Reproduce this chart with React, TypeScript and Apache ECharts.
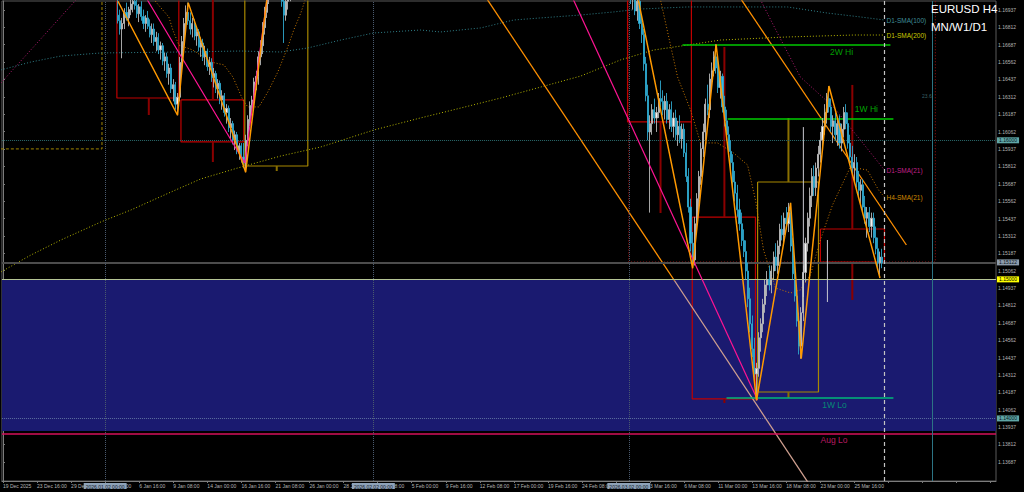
import React, { useEffect, useRef } from "react";
import * as echarts from "echarts";

// ---------------- DATA ----------------
const FONT = '"Liberation Sans", Arial, sans-serif';
const N_SLOTS = 467; // H4 bar slots shown (incl. chart shift)
const LABEL_STEP = 16;
const xLabels = [
  "19 Dec 2025", "23 Dec 16:00", "29 Dec 08:00", "2 Jan 00:00", "6 Jan 16:00", "9 Jan 08:00",
  "14 Jan 00:00", "16 Jan 16:00", "21 Jan 08:00", "26 Jan 00:00", "28 Jan 16:00", "2 Feb 08:00",
  "5 Feb 00:00", "9 Feb 16:00", "12 Feb 08:00", "17 Feb 00:00", "19 Feb 16:00", "24 Feb 08:00",
  "27 Feb 00:00", "3 Mar 16:00", "6 Mar 08:00", "11 Mar 00:00", "13 Mar 16:00", "18 Mar 08:00",
  "23 Mar 00:00", "25 Mar 16:00",
];
// prices in pips above 1.1000 (e.g. 650 = 1.1650)
const Y_MIN = 355.0;
const Y_MAX = 700.17;
const yTickPips = [
  368.75, 381.25, 393.75, 406.25, 418.75, 431.25, 443.75, 456.25, 468.75, 481.25, 493.75,
  506.25, 518.75, 531.25, 543.75, 556.25, 568.75, 581.25, 593.75, 606.25, 618.75, 631.25,
  643.75, 656.25, 668.75, 681.25, 693.75,
];

// candles [open, high, low, close]; null = off-screen (above the chart)
const JAN_START = 54;
const janBars = [
  [690,701,684,686],[686,694,676,680],[680,688,659,684],[684,695,680,692],[692,699,686,688],
  [688,696,682,694],[694,701,690,698],[698,705,692,700],[700,706,694,697],[697,702,688,691],
  [691,698,685,696],[696,700,686,689],[689,694,680,684],[684,690,678,688],[688,693,680,682],
  [682,687,674,676],[676,684,670,680],[680,684,668,671],[671,678,664,674],[674,677,662,665],
  [665,671,658,668],[668,670,654,657],[657,663,650,660],[660,663,645,648],[648,655,640,652],
  [652,655,634,637],[637,644,628,640],[640,642,622,626],[626,634,618,631],[631,660,628,656],
  [656,675,650,671],[671,688,666,684],[684,697,679,692],[692,699,683,686],[686,692,676,680],
  [680,688,674,684],[684,687,672,675],[675,682,668,678],[678,680,664,667],[667,674,660,670],
  [670,673,657,660],[660,668,654,664],[664,666,650,653],[653,660,647,656],[656,659,642,645],
  [645,652,638,648],[648,650,634,637],[637,644,630,641],[641,643,626,629],[629,636,622,632],
  [632,634,617,620],[620,626,612,623],[623,625,606,609],[609,616,601,612],[612,614,597,600],
  [600,607,593,604],[604,606,590,593],[593,598,586,596],[596,598,584,588],[588,598,580,584],
  [584,604,577,600],[600,618,596,615],[615,628,610,625],[625,632,618,629],[629,645,624,642],
  [642,650,636,646],[646,664,640,660],[660,672,654,668],[668,685,662,681],[681,696,676,692],
  [692,708,688,704],[704,712,698,708],null,null,null,null,null,
  [712,718,696,700],[700,706,670,690],[690,703,686,700],[700,712,694,708],[708,715,700,712],
];
const MAR_START = 295;
const marBars = [
  [712,720,698,702],[702,712,694,708],[708,712,690,693],[693,703,686,700],[700,704,680,684],
  [684,690,670,676],[676,680,650,655],[655,660,628,632],[632,640,600,606],[606,618,548,612],
  [612,626,604,622],[622,630,612,616],[616,624,606,620],[620,634,616,630],[630,643,624,628],
  [628,636,618,622],[622,632,615,628],[628,634,612,615],[615,626,608,622],[622,628,606,610],
  [610,620,602,616],[616,622,600,604],[604,614,596,610],[610,618,598,601],[601,612,594,608],
  [608,612,588,591],[591,598,570,574],[574,580,548,552],[552,558,520,526],[526,534,508,514],
  [514,545,510,540],[540,562,535,558],[558,578,550,574],[574,598,568,594],[594,612,588,606],
  [606,630,600,626],[626,640,618,622],[622,648,616,644],[644,656,638,650],[650,664,646,660],
  [660,669,648,652],[652,660,634,638],[638,650,630,646],[646,648,620,624],[624,632,610,614],
  [614,622,600,604],[604,610,588,592],[592,600,578,584],[584,590,565,570],[570,578,556,562],
  [562,568,545,550],[550,558,535,540],[540,548,524,528],[528,536,516,520],[520,528,500,506],
  [506,512,480,486],[486,494,462,468],[468,474,444,450],[450,458,425,432],[432,440,413,436],
  [436,462,430,458],[458,472,448,468],[468,486,462,482],[482,500,476,496],[496,506,488,500],
  [500,510,492,496],[496,510,490,506],[506,520,500,516],[516,526,506,510],[510,528,504,524],
  [524,540,518,536],[536,546,528,532],[532,548,526,544],[544,552,536,540],[540,555,534,548],
  [548,555,520,524],[524,530,500,504],[504,510,484,488],[488,494,466,470],[470,476,446,452],
  [452,480,443,476],[476,510,470,505],[505,530,498,526],[526,548,520,544],[544,566,538,560],
  [560,580,552,574],[574,582,560,566],[566,584,560,580],[580,596,574,590],[590,606,584,600],
  [600,616,594,610],[610,626,604,620],[620,634,612,630],[630,639,620,624],[624,630,606,610],
  [610,618,598,614],[614,620,600,604],[604,616,596,612],[612,618,594,598],[598,612,592,608],
  [608,624,602,620],[620,626,608,612],[612,620,594,598],[598,604,584,588],[588,596,576,580],
  [580,590,570,584],[584,588,566,570],[570,578,560,564],[564,572,554,568],[568,572,548,552],
  [552,560,540,544],[544,552,530,548],[548,552,534,538],[538,548,530,544],[544,548,526,530],
  [530,538,518,522],[522,530,508,512],[512,520,501,516],[516,522,508,512],
];

// moving averages [barIndex, pips]
const d1Sma100 = [[-1,650.6],[13.1,656.3],[27.2,660.6],[46,662.8],[83.6,663.5],[111.7,664.2],[130.5,663.5],[143.2,666.4],[158.7,672.1],[174.2,677.2],[196.2,679.3],[205.6,677.9],[224.4,680.8],[239.9,686.5],[252.6,688],[271.4,690.1],[286.9,692.3],[299.5,694.4],[321.6,695.9],[368.5,695.9],[387.3,691.5],[402.8,688.7],[414.1,686.5]];
const d1Sma200 = [[-1,505.3],[13.1,517.5],[27.2,528.3],[46,541.3],[60.1,549.9],[78.9,562.8],[92.9,572.2],[110.3,580.1],[130.5,588.7],[149.3,595.2],[174.2,607.4],[196.2,616.1],[215,623.2],[233.8,630.4],[252.6,638.3],[271.4,646.2],[290.1,657.8],[305.6,664.9],[321.6,668.5],[337.1,672.1],[368.5,674.3],[399.5,675.7],[414.1,675.7]];
const d1Sma21Jan = [[-1,641.2],[34.3,700.9],[40,712]];
const d1Sma21Mar = [[348.8,715],[355.9,700.9],[363.8,677.2],[374.6,645.5],[390.1,624],[402.8,600.2],[414.1,578.6]];
const h4Sma21Jan = [[69.5,708.1],[71.8,699.5],[77.9,688.7],[79.8,679.3],[82.6,668.5],[89.2,664.9],[97.7,656.3],[103.8,654.2],[108,645.5],[112.7,629],[115,624],[120.2,624],[124.4,634.7],[129.1,649.1],[133.8,667.1],[136.6,679.3],[139.9,691.5],[142.7,704.5]];
const h4Sma21Mar = [[306.6,708.1],[308.9,700.9],[316.9,645.5],[323,621.8],[327.7,598.1],[335.7,598.1],[343.2,590.9],[349.8,582.2],[353.5,557.1],[357.3,521.1],[362.9,493.8],[370,490.2],[374.6,492.4],[379.3,503.1],[384,528.3],[389.7,553.5],[398.1,580.8],[406.1,578.6],[411.3,564.3],[414.1,559.2]];

// zigzag & trend lines
const zigJan = [[54,700],[82,618],[87,699],[114,577],[124.5,708]];
const zigMar = [[297,712],[324,508],[335,669],[354,413],[370,555],[375,443],[388,639],[412,501]];
const pinkJan = [[64.8,708.7],[113.6,583.7],[124.6,708]];
const pinkMar = [[264.8,711.6],[354.5,413.3]];
const trendLongA = [[224.4,708.4],[315.5,499]];
const trendLongB = [[315.5,499],[379.3,351.4]];
const trendDesc = [[343.2,709.5],[424.4,524.7]];

// levels
const hi2w = [[319.2,668.5],[416.9,668.5]];
const hi1w = [[340.4,615.3],[418.3,615.3]];
const lo1w = [[339.9,414.7],[418.3,414.7]];

// weekly candle boxes (body outline) and wicks
const redBoxes = [
  [[53.5,720],[53.5,630.4],[82.6,630.4],[82.6,720]],
  [[83.6,629],[83.6,598.8],[113.1,598.8],[113.1,629],[83.6,629]],
  [[293.4,720],[293.4,613.2],[323.4,613.2],[323.4,720]],
  [[323.4,613.2],[323.4,544.8]],
  [[323.8,544.8],[323.8,414],[353.5,414],[353.5,544.8],[323.8,544.8]],
  [[384,536.2],[384,512.5],[414.1,512.5],[414.1,536.2],[384,536.2]],
];
const redWicks = [
  [[68.5,630.4],[68.5,618.2]],
  [[98.6,720],[98.6,629]], [[98.6,598.8],[98.6,584.4]],
  [[308.9,613.2],[308.9,547.7]],
  [[338.9,667.1],[338.9,544.8]], [[338.9,414],[338.9,411.1]],
  [[399,639.8],[399,536.2]], [[399,512.5],[399,485.2]],
];
const oliveBoxes = [
  [[113.6,720],[113.6,581.5],[143.2,581.5],[143.2,720]],
  [[354.5,570],[354.5,419],[383.1,419],[383.1,570],[354.5,570]],
];
const oliveWicks = [
  [[128.6,581.5],[128.6,577.9]],
  [[369,616],[369,570]], [[369,419],[369,414.7]],
];
const monthDec = [[-1,593.8],[46.5,593.8],[46.5,720]];
const monthMar = [[293.9,720],[293.9,512.5],[438,512.5],[438,720]];
const grayWicks = [
  [[376,609.5],[376,487.3]],
  [[387.3,528.3],[387.3,483.7]],
];

// horizontal price levels with axis boxes
const priceLevels = [
  { v: 699.0, text: "1.17000", bg: "#5fa6a6", fg: "#06141c", line: "#000", w: 0, t: "solid" },
  { v: 600.0, text: "1.16000", bg: "#5fa6a6", fg: "#06141c", line: "#2b6a6c", w: 1, t: "dotted" },
  { v: 512.2, text: "1.15122", bg: "#8e9cab", fg: "#0c1420", line: "#4c4c4c", w: 2, t: "solid" },
  { v: 500.0, text: "1.15000", bg: "#ffff00", fg: "#000000", line: "#b4c494", w: 1, t: "solid" },
  { v: 400.0, text: "1.14000", bg: "#5fa6a6", fg: "#06141c", line: "#5d6fa0", w: 1, t: "dotted" },
];
const AUG_LO = 389.0;
const ZONE = [500.0, 391.0];
const monthSeps = [
  { x: 48, text: "2026.01.02 00:00" },
  { x: 174, text: "2026.02.02 00:00" },
  { x: 294, text: "2026.03.02 00:00" },
];
const SHIFT_X = 414.1;
const CYAN_X = 436.6;

const annotations = [
  { p: [393.9, 663.5], text: "2W Hi", color: "#00c800", size: 8.5 },
  { p: [405.6, 622.4], text: "1W Hi", color: "#00d400", size: 8.5 },
  { p: [390.6, 409.9], text: "1W Lo", color: "#00a878", size: 8.5 },
  { p: [390.4, 384.5], text: "Aug Lo", color: "#e0207f", size: 8.5 },
  { p: [434.0, 631.9], text: "23.6", color: "#4a7a80", size: 5 },
];

// ---------------- CHART ----------------
function buildOption() {
  const categories = Array.from({ length: N_SLOTS }, (_, i) =>
    i % LABEL_STEP === 0 && xLabels[i / LABEL_STEP] ? xLabels[i / LABEL_STEP] : ""
  );
  const candles: any[] = Array(N_SLOTS).fill("-");
  const put = (start: number, rows: any[]) =>
    rows.forEach((b, k) => {
      if (b) candles[start + k] = [b[0], b[3], b[2], b[1]];
    });
  put(JAN_START, janBars);
  put(MAR_START, marBars);

  const line = (data: any, color: string, width: number, type: any = "solid", extra: any = {}) => ({
    type: "line",
    xAxisIndex: 1,
    yAxisIndex: 0,
    data,
    symbol: "none",
    showSymbol: false,
    silent: true,
    clip: true,
    z: 4,
    lineStyle: { color, width, type },
    ...extra,
  });
  const endLabel = (text: string, color: string) => ({
    endLabel: { show: true, formatter: text, color, fontSize: 6.5, distance: 2, fontFamily: FONT },
  });

  const series: any[] = [];
  // blue zone
  series.push({
    type: "line", xAxisIndex: 1, yAxisIndex: 0, data: [], silent: true, z: 1,
    markArea: {
      silent: true,
      itemStyle: { color: "#1a1a70" },
      data: [[{ yAxis: ZONE[0] }, { yAxis: ZONE[1] }]],
    },
  });
  // price lines and separators
  const ml: any[] = [];
  priceLevels.forEach((l) =>
    ml.push({
      yAxis: l.v,
      lineStyle: { color: l.line, width: l.w, type: l.t, opacity: l.w ? 1 : 0 },
      label: {
        show: true, position: "end", distance: 1, formatter: l.text, color: l.fg,
        backgroundColor: l.bg, padding: [1, 2, 0, 2], fontSize: 5, fontFamily: FONT,
      },
    })
  );
  ml.push({ yAxis: AUG_LO, lineStyle: { color: "#d4105c", width: 1.5, type: "solid" }, label: { show: false } });
  monthSeps.forEach((s) =>
    ml.push({
      xAxis: s.x,
      lineStyle: { color: "#4a5a6e", width: 1, type: "dotted" },
      label: {
        show: true, position: "start", distance: 2, formatter: s.text, color: "#101828",
        backgroundColor: "#8ea2b8", padding: [1, 2, 0, 2], fontSize: 5, fontFamily: FONT,
      },
    })
  );
  ml.push({ xAxis: SHIFT_X, lineStyle: { color: "#c4c4c4", width: 1.2, type: [4, 3] }, label: { show: false } });
  ml.push({ xAxis: CYAN_X, lineStyle: { color: "#2c7484", width: 1, type: "solid" }, label: { show: false } });
  series.push({
    type: "line", xAxisIndex: 1, yAxisIndex: 0, data: [], silent: true, z: 2,
    markLine: { symbol: ["none", "none"], silent: true, animation: false, data: ml },
  });

  // month boxes
  series.push(line(monthDec, "#a08400", 1, [3, 2]));
  series.push(line(monthMar, "#a01010", 1, [1, 2]));
  // weekly boxes
  redBoxes.forEach((b) => series.push(line(b, "#c00000", 1.2)));
  redWicks.forEach((b) => series.push(line(b, "#8a0000", 2)));
  oliveBoxes.forEach((b) => series.push(line(b, "#a88800", 1.2)));
  oliveWicks.forEach((b) => series.push(line(b, "#8a7000", 2)));
  grayWicks.forEach((b) => series.push(line(b, "#c8c8d0", 1, "solid", { z: 6 })));
  // MAs
  series.push(line(d1Sma100, "#2f7f88", 1, [1, 2], endLabel("D1-SMA(100)", "#3f8e98")));
  series.push(line(d1Sma200, "#b4b400", 1, [1, 2], endLabel("D1-SMA(200)", "#c8c800")));
  series.push(line(d1Sma21Jan, "#b01a70", 1, [1, 2]));
  series.push(line(d1Sma21Mar, "#b01a70", 1, [1, 2], endLabel("D1-SMA(21)", "#c0208a")));
  series.push(line(h4Sma21Jan, "#c87800", 1, [1, 2]));
  series.push(line(h4Sma21Mar, "#c87800", 1, [1, 2], endLabel("H4-SMA(21)", "#d08a00")));
  // trend lines
  series.push(line(trendLongA, "#ff9000", 1.3));
  series.push(line(trendLongB, "#d0a090", 1.3));
  series.push(line(trendDesc, "#ff9000", 1.3));
  series.push(line(pinkJan, "#ff1493", 1.2, "solid", { z: 7 }));
  series.push(line(pinkMar, "#ff1493", 1.2, "solid", { z: 7 }));
  // levels
  series.push(line(hi2w, "#00c800", 1.5));
  series.push(line(hi1w, "#00cc00", 1.5));
  series.push(line(lo1w, "#00b878", 1.5));

  // candles
  series.push({
    type: "candlestick",
    xAxisIndex: 0,
    yAxisIndex: 0,
    data: candles,
    barWidth: 1.6,
    silent: true,
    z: 5,
    itemStyle: {
      color: "#f4f4f4",
      color0: "#34bde6",
      borderColor: "#b8b8b8",
      borderColor0: "#2ea6cc",
      borderWidth: 0.9,
    },
  });
  // zigzag on top
  series.push(line(zigJan, "#ff9900", 1.5, "solid", { z: 8 }));
  series.push(line(zigMar, "#ff9900", 1.5, "solid", { z: 8 }));

  // text annotations
  series.push({
    type: "scatter", xAxisIndex: 1, yAxisIndex: 0, symbolSize: 0, silent: true, z: 9,
    data: annotations.map((a) => ({
      value: a.p,
      label: { show: true, position: "inside", formatter: a.text, color: a.color, fontSize: a.size, fontFamily: FONT },
    })),
  });

  return {
    animation: false,
    backgroundColor: "#000000",
    textStyle: { fontFamily: FONT },
    grid: {
      left: 1, right: 28, top: 1, bottom: 11, show: true,
      borderColor: "#5a5a5a", borderWidth: 1, backgroundColor: "#000000",
    },
    xAxis: [
      {
        type: "category",
        data: categories,
        boundaryGap: true,
        axisLine: { show: true, lineStyle: { color: "#7c7c7c" } },
        axisTick: { show: true, interval: LABEL_STEP - 1, alignWithLabel: true, length: 2, lineStyle: { color: "#7c7c7c" } },
        axisLabel: { interval: LABEL_STEP - 1, align: "left", fontSize: 5, color: "#b4b4b4", margin: 2, fontFamily: FONT },
        splitLine: { show: false },
      },
      { type: "value", min: -0.5, max: N_SLOTS - 0.5, show: false },
    ],
    yAxis: {
      type: "value",
      position: "right",
      min: Y_MIN,
      max: Y_MAX,
      axisLine: { show: true, lineStyle: { color: "#7c7c7c" } },
      axisTick: { show: true, customValues: yTickPips, length: 2, lineStyle: { color: "#7c7c7c" } },
      axisLabel: {
        customValues: yTickPips,
        fontSize: 5,
        color: "#b4b4b4",
        margin: 2,
        fontFamily: FONT,
        formatter: (v: number) => (Math.floor((1.1 + v / 10000) * 1e5 + 1e-6) / 1e5).toFixed(5),
      },
      splitLine: { show: false },
    },
    graphic: [
      { type: "text", left: 931, top: 3, z: 100, style: { text: "EURUSD H4", fill: "#ffffff", fontSize: 11.5, fontFamily: FONT } },
      { type: "text", left: 931, top: 21, z: 100, style: { text: "MN/W1/D1", fill: "#ffffff", fontSize: 11.5, fontFamily: FONT } },
    ],
    series,
  };
}

export default function App() {
  const ref = useRef<HTMLDivElement>(null);
  useEffect(() => {
    if (!ref.current) return;
    const chart = echarts.init(ref.current, null, { renderer: "svg" });
    chart.setOption(buildOption() as any);
    return () => chart.dispose();
  }, []);
  return (
    <div
      ref={ref}
      style={{ position: "absolute", left: 0, top: 0, width: 1024, height: 492, background: "#000" }}
    />
  );
}
